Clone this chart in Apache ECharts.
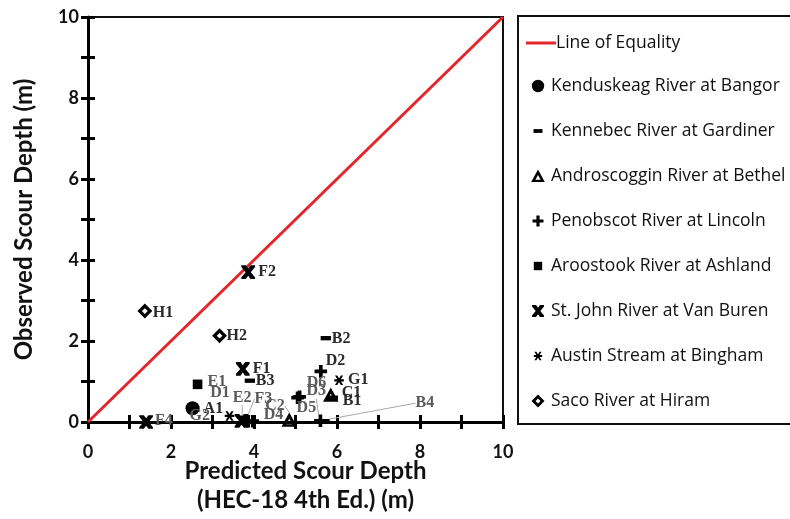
<!DOCTYPE html>
<html><head><meta charset="utf-8">
<script src="https://cdn.jsdelivr.net/npm/echarts@6/dist/echarts.min.js"></script>
<style>html,body{margin:0;padding:0;background:#fff}#c{width:790px;height:519px}</style>
</head><body><div id="c"></div>
<script>
// ---- data ----
const equalityLine = [[0, 0], [10, 10]];
const kenduskeag   = [[2.52, 0.34, 'A1']];
const kennebec     = [[5.90, 0.60, 'B1'], [5.73, 2.07, 'B2'], [3.90, 1.02, 'B3'], [5.70, 0.02, 'B4']];
const androscoggin = [[5.85, 0.67, 'C1'], [4.85, 0.05, 'C2']];
const penobscot    = [[3.86, 0.02, 'D1'], [5.61, 1.25, 'D2'], [5.60, 0.03, 'D3'], [3.97, 0.02, 'D4'], [5.05, 0.60, 'D5'], [5.10, 0.62, 'D6']];
const aroostook    = [[2.64, 0.93, 'E1'], [3.78, 0.04, 'E2']];
const stJohn       = [[3.73, 1.31, 'F1'], [3.86, 3.70, 'F2'], [3.70, 0.03, 'F3'], [1.40, 0.00, 'F4']];
const austin       = [[6.05, 1.03, 'G1'], [3.41, 0.15, 'G2']];
const saco         = [[1.37, 2.74, 'H1'], [3.17, 2.13, 'H2']];
const tickLabels   = ['0', '2', '4', '6', '8', '10'];

const seriesNames = [
  'Kenduskeag River at Bangor', 'Kennebec River at Gardiner', 'Androscoggin River at Bethel',
  'Penobscot River at Lincoln', 'Aroostook River at Ashland', 'St. John River at Van Buren',
  'Austin Stream at Bingham', 'Saco River at Hiram'
];
const seriesData = [kenduskeag, kennebec, androscoggin, penobscot, aroostook, stJohn, austin, saco];

// ---- styling / layout (not data) ----
const BOX = 'path://M0,0 L0,0 M14,14 L14,14 ';
const sym = {
  circle:   BOX + 'M0.8,7 A6.2,6.2 0 1,1 13.2,7 A6.2,6.2 0 1,1 0.8,7 Z',
  dash:     BOX + 'M2.5,5.1 L11.5,5.1 L11.5,8.9 L2.5,8.9 Z',
  triangle: BOX + 'M7,0.5 L13.8,13 L0.2,13 Z M7,6 L4.4,10.7 L9.6,10.7 Z',
  plus:     BOX + 'M5.4,1.5 L8.6,1.5 L8.6,5.4 L12.5,5.4 L12.5,8.6 L8.6,8.6 L8.6,12.5 L5.4,12.5 L5.4,8.6 L1.5,8.6 L1.5,5.4 L5.4,5.4 Z',
  square:   BOX + 'M2.8,2.8 L11.2,2.8 L11.2,11.2 L2.8,11.2 Z',
  xmark:    BOX + 'M1,1 L5,1 L7,3.8 L9,1 L13,1 L13,2.5 L9.3,7 L13,11.5 L13,13 L9,13 L7,10.2 L5,13 L1,13 L1,11.5 L4.7,7 L1,2.5 Z',
  asterisk: BOX + 'M2.8,6 L11.2,6 L11.2,8 L2.8,8 Z M3.4,2.8 L5.4,2.8 L10.6,11.2 L8.6,11.2 Z M8.6,2.8 L10.6,2.8 L5.4,11.2 L3.4,11.2 Z',
  diamond:  BOX + 'M7,0.5 L13.5,7 L7,13.5 L0.5,7 Z M7,4.5 L4.5,7 L7,9.5 L9.5,7 Z'
};
const seriesSymbols = [sym.circle, sym.dash, sym.triangle, sym.plus, sym.square, sym.xmark, sym.asterisk, sym.diamond];

// label nudges in pixels relative to the default "right" placement
const labelNudge = {
  A1: [0, 1], B1: [-1, 3], B2: [-5, 1], B3: [-5, 0], B4: [80, -18], C1: [0, -2], C2: [-35, -14],
  D1: [-49, -28], D2: [-6, -11], D3: [-25, -30], D4: [0, -6], D5: [-12, 10], D6: [-4, -14],
  E1: [-1, -2], E2: [-23, -23], F1: [-1, 0], F2: [-1, 0], F3: [2, -22], F4: [-2, -1],
  G1: [-2, 0], G2: [-51, 0], H1: [-3, 2], H2: [-4, 0]
};
const leaderLines = new Set(['B4', 'C2', 'D3', 'E2', 'F3']);
const faded = new Set(['D1', 'E2', 'F3', 'C2', 'D4', 'D5', 'D6', 'D3', 'B4', 'G2', 'F4', 'E1']);

const chart = echarts.init(document.getElementById('c'), null, { renderer: 'canvas' });

const scatterSeries = seriesData.map((arr, si) => ({
  name: seriesNames[si],
  type: 'scatter',
  xAxisIndex: 0, yAxisIndex: 0,
  symbol: seriesSymbols[si],
  symbolSize: 16,
  itemStyle: { color: '#000', opacity: 1 },
  z: 5,
  label: {
    show: true, position: 'right', distance: 3,
    formatter: p => p.data.name,
    fontFamily: 'Liberation Serif', fontWeight: 'bold', fontSize: 16, color: '#2a2a2a'
  },
  labelLine: { show: false, lineStyle: { color: '#a8a8a8', width: 1 } },
  labelLayout: p => {
    const d = seriesData[p.seriesIndex - 1][p.dataIndex];
    const n = labelNudge[d[2]] || [0, 0];
    return { dx: n[0], dy: n[1] };
  },
  data: arr.map(d => ({
    value: [d[0], d[1]], name: d[2],
    label: { color: faded.has(d[2]) ? '#5a5a5a' : '#2a2a2a' },
    labelLine: { show: leaderLines.has(d[2]) }
  }))
}));

const axisFont = { fontFamily: 'Lato', fontWeight: 'bold', fontSize: 18, color: '#111' };
const evenOnly = v => (tickLabels.indexOf(String(v)) >= 0 ? String(v) : '');

chart.setOption({
  animation: false,
  backgroundColor: '#fff',
  grid: { left: 88, top: 17, width: 415, height: 405, outerBoundsMode: 'none', containLabel: false,
          show: true, borderColor: '#111', borderWidth: 2, backgroundColor: 'transparent' },
  xAxis: [
    {
      type: 'value', min: 0, max: 10, interval: 1, position: 'bottom',
      axisLine: { show: true, onZero: false, lineStyle: { color: '#000', width: 3 } },
      axisTick: { show: true, inside: false, length: 7, lineStyle: { color: '#000', width: 3 } },
      axisLabel: Object.assign({ margin: 21, formatter: evenOnly, showMinLabel: true, showMaxLabel: true }, axisFont),
      splitLine: { show: false },
      name: 'Predicted Scour Depth\n(HEC-18 4th Ed.) (m)', nameLocation: 'middle', nameGap: 35,
      nameMoveOverlap: false,
      nameTextStyle: { fontFamily: 'Lato', fontWeight: 'bold', fontSize: 24, color: '#111', lineHeight: 29, padding: [0, 0, 0, 20] }
    },
    {
      type: 'value', min: 0, max: 10, interval: 1, position: 'bottom',
      axisLine: { show: false },
      axisTick: { show: true, inside: true, length: 7, lineStyle: { color: '#000', width: 3 } },
      axisLabel: { show: false }, splitLine: { show: false }
    }
  ],
  yAxis: [
    {
      type: 'value', min: 0, max: 10, interval: 1, position: 'left',
      axisLine: { show: true, onZero: false, lineStyle: { color: '#000', width: 3 } },
      axisTick: { show: true, inside: false, length: 7, lineStyle: { color: '#000', width: 3 } },
      axisLabel: Object.assign({ margin: 9, formatter: evenOnly }, axisFont),
      splitLine: { show: false },
      name: 'Observed Scour Depth (m)', nameLocation: 'middle', nameGap: 52,
      nameTextStyle: { fontFamily: 'Lato', fontWeight: 'bold', fontSize: 24, color: '#111' }
    },
    {
      type: 'value', min: 0, max: 10, interval: 1, position: 'left',
      axisLine: { show: false },
      axisTick: { show: true, inside: true, length: 7, lineStyle: { color: '#000', width: 3 } },
      axisLabel: { show: false }, splitLine: { show: false }
    }
  ],
  legend: [
    {
      data: [{ name: 'Line of Equality', icon: 'rect' }],
      left: 521, top: 29, itemWidth: 30, itemHeight: 3, itemGap: 0,
      textStyle: { fontFamily: 'Open Sans', fontSize: 17.5, color: '#111', padding: [0, 0, 0, -5] },
      selectedMode: false
    },
    {
      data: seriesNames.map((n, i) => ({ name: n, icon: seriesSymbols[i] })),
      orient: 'vertical', left: 526, top: 71, itemWidth: 14, itemHeight: 14, itemGap: 25,
      textStyle: { fontFamily: 'Open Sans', fontSize: 17.5, color: '#111', lineHeight: 20, padding: [0, 0, 0, 1] },
      selectedMode: false
    }
  ],
  graphic: [
    { type: 'rect', left: 517, top: 15, shape: { width: 290, height: 408 }, style: { fill: 'transparent', stroke: '#111', lineWidth: 2 }, z: 0, silent: true }
  ],
  series: [
    {
      name: 'Line of Equality', type: 'line', data: equalityLine, symbol: 'none', z: 3,
      lineStyle: { color: '#e3262b', width: 3 }, itemStyle: { color: '#e3262b' }
    }
  ].concat(scatterSeries)
});
</script></body></html>
